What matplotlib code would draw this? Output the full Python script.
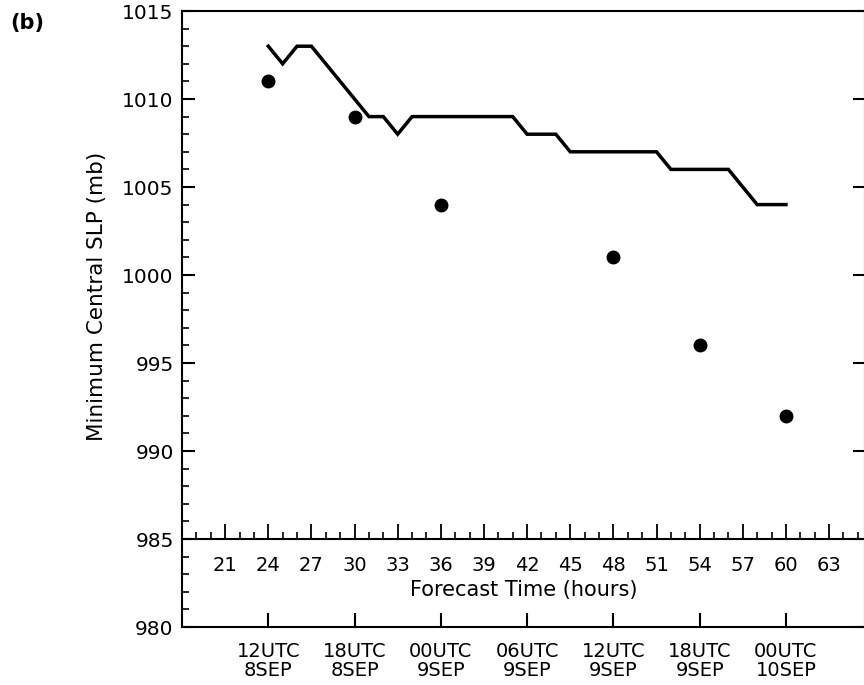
import matplotlib
matplotlib.use("Agg")
import matplotlib.pyplot as plt
from matplotlib.ticker import MultipleLocator, FixedLocator

# Model forecast of minimum central SLP (hourly)
model_hours = list(range(24, 61))
model_slp = [1013, 1012, 1013, 1013, 1012, 1011, 1010, 1009, 1009, 1008,
             1009, 1009, 1009, 1009, 1009, 1009, 1009, 1009, 1008, 1008,
             1008, 1007, 1007, 1007, 1007, 1007, 1007, 1007, 1006, 1006,
             1006, 1006, 1006, 1005, 1004, 1004, 1004]

# Observed (best track) values
obs_hours = [24, 30, 36, 48, 54, 60]
obs_slp = [1011, 1009, 1004, 1001, 996, 992]

date_ticks = [24, 30, 36, 42, 48, 54, 60]
date_labels = ["12UTC\n8SEP", "18UTC\n8SEP", "00UTC\n9SEP", "06UTC\n9SEP",
               "12UTC\n9SEP", "18UTC\n9SEP", "00UTC\n10SEP"]
hour_ticks = list(range(21, 64, 3))
hour_labels = [str(h) for h in hour_ticks]

W, H, DPI = 864, 685, 100
fig = plt.figure(figsize=(W / DPI, H / DPI), dpi=DPI)
left_px, right_px, top_px, bot_px = 182, 865, 11, 627
ax = fig.add_axes([left_px / W, 1 - bot_px / H, (right_px - left_px) / W,
                   (bot_px - top_px) / H])

ax.plot(model_hours, model_slp, color="black", lw=2.5, solid_joinstyle="miter",
        zorder=3)
ax.plot(obs_hours, obs_slp, "o", color="black", ms=9, zorder=4)

ax.set_xlim(18, 65.5)
ax.set_ylim(980, 1015)

for s in ax.spines.values():
    s.set_linewidth(1.5)

# main axis: date ticks on bottom, plain ticks on top
ax.xaxis.set_major_locator(FixedLocator(date_ticks))
ax.set_xticklabels(date_labels, fontsize=14, linespacing=0.95)
ax.tick_params(axis="x", which="major", direction="in", length=10, width=1.5,
               top=True, bottom=True, pad=11)

ax.yaxis.set_major_locator(MultipleLocator(5))
ax.yaxis.set_minor_locator(MultipleLocator(1))
ax.tick_params(axis="y", which="major", direction="in", length=9, width=1.5,
               left=True, right=True, labelsize=14.5, pad=6)
ax.tick_params(axis="y", which="minor", direction="in", length=5, width=1.2,
               left=True, right=False)

# inner forecast-hour axis at 985 mb
ax2 = ax.twiny()
ax2.set_xlim(ax.get_xlim())
for name in ["top", "left", "right"]:
    ax2.spines[name].set_visible(False)
ax2.spines["bottom"].set_position(("data", 985))
ax2.spines["bottom"].set_linewidth(1.5)
ax2.xaxis.set_ticks_position("bottom")
ax2.xaxis.set_label_position("bottom")
ax2.xaxis.set_major_locator(FixedLocator(hour_ticks))
ax2.xaxis.set_minor_locator(MultipleLocator(1))
ax2.set_xticklabels(hour_labels, fontsize=14)
ax2.tick_params(axis="x", which="major", direction="in", length=11, width=1.3,
                pad=12)
ax2.tick_params(axis="x", which="minor", direction="in", length=5, width=1.2)
ax2.set_xlabel("Forecast Time (hours)", fontsize=15, labelpad=4)
ax2.patch.set_visible(False)

fig.text(97 / W, 1 - 296 / H, "Minimum Central SLP (mb)", rotation=90,
         fontsize=15.5, ha="center", va="center")
fig.text(10 / W, 1 - 23 / H, "(b)", fontsize=15, fontweight="bold",
         ha="left", va="center")

fig.savefig("out.png", dpi=DPI)
